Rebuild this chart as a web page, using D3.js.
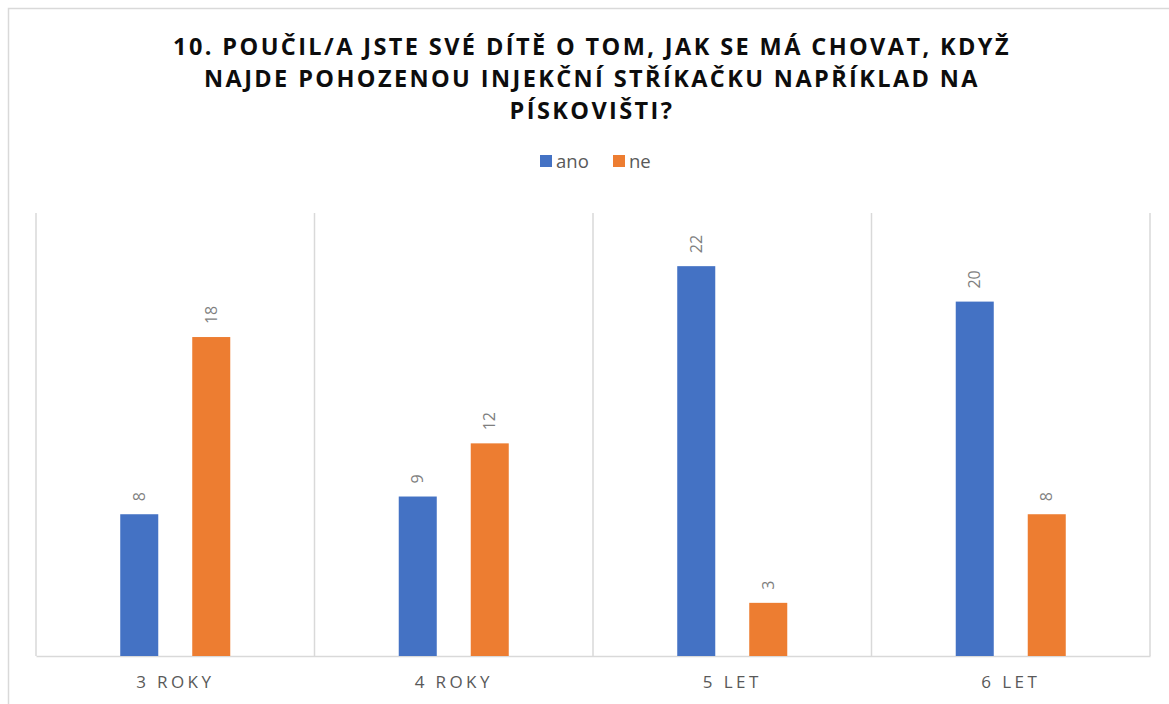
<!DOCTYPE html>
<html><head><meta charset="utf-8">
<script src="https://cdn.jsdelivr.net/npm/d3@7"></script>
<style>body{margin:0;background:#fff;} svg{display:block;}</style>
</head><body>
<svg id="c" width="1169" height="704"></svg>
<script>
const categories = ["3 ROKY", "4 ROKY", "5 LET", "6 LET"];
const seriesNames = ["ano", "ne"];
const anoValues = [8, 9, 22, 20];
const neValues = [18, 12, 3, 8];
const titleLines = ["10. POUČIL/A JSTE SVÉ DÍTĚ O TOM, JAK SE MÁ CHOVAT, KDYŽ", "NAJDE POHOZENOU INJEKČNÍ STŘÍKAČKU NAPŘÍKLAD NA", "PÍSKOVIŠTI?"];
const colors = ["#4472C4", "#ED7D31"];
const yMax = 25;

const svg = d3.select("#c");
const font = "'Open Sans', 'Liberation Sans', sans-serif";

// outer chart border
svg.append("rect").attr("x", 8.5).attr("y", 8.5).attr("width", 1180).attr("height", 720)
  .attr("fill", "#fff").attr("stroke", "#d9d9d9").attr("stroke-width", 1.5);

const L = 36, R = 1150, T = 213, B = 656;
const x0 = d3.scaleBand().domain(categories).range([L, R]).paddingInner(0).paddingOuter(0);
const x1 = d3.scaleBand().domain(seriesNames).range([0, x0.bandwidth()]).paddingInner(0.472).paddingOuter(1.17);
const y = d3.scaleLinear().domain([0, yMax]).range([B, T]);

// vertical gridlines
const gridX = categories.map(c => x0(c)).concat([R]);
svg.append("g").selectAll("line").data(gridX).join("line")
  .attr("x1", d => d).attr("x2", d => d).attr("y1", T).attr("y2", B)
  .attr("stroke", "#d9d9d9").attr("stroke-width", 1.5);

// bottom axis
const xAxis = svg.append("g").attr("transform", `translate(0,${B})`)
  .call(d3.axisBottom(x0).tickSize(0).tickPadding(20));
xAxis.select(".domain").attr("stroke", "#d9d9d9").attr("stroke-width", 1.5);
xAxis.selectAll("text").attr("font-family", font).attr("font-size", 17)
  .attr("fill", "#595959").attr("letter-spacing", "3.4px");

const data = categories.map((c, i) => ({c, vals: [anoValues[i], neValues[i]]}));
const groups = svg.append("g").selectAll("g").data(data).join("g")
  .attr("transform", d => `translate(${x0(d.c)},0)`);
groups.selectAll("rect").data(d => d.vals.map((v, j) => ({s: seriesNames[j], v, j}))).join("rect")
  .attr("x", d => x1(d.s)).attr("width", x1.bandwidth())
  .attr("y", d => y(d.v)).attr("height", d => B - y(d.v))
  .attr("fill", d => colors[d.j]);
groups.selectAll("text").data(d => d.vals.map((v, j) => ({s: seriesNames[j], v, j}))).join("text")
  .attr("transform", d => `translate(${x1(d.s) + x1.bandwidth() / 2},${y(d.v) - 13}) rotate(-90)`)
  .attr("dy", "0.35em").attr("text-anchor", "start")
  .attr("font-family", font).attr("font-size", 16).attr("fill", "#7f7f7f")
  .text(d => d.v);

// title
const title = svg.append("g");
const lineY = [55, 87, 119];
title.selectAll("text").data(titleLines).join("text")
  .attr("x", 592).attr("y", (d, i) => lineY[i])
  .attr("text-anchor", "middle").attr("font-family", font).attr("font-weight", "bold")
  .attr("font-size", 23.5).attr("fill", "#0d0d0d").attr("letter-spacing", "2.4px")
  .text(d => d);

// legend
const legend = svg.append("g");
const legX = [540, 613];
seriesNames.forEach((s, i) => {
  legend.append("rect").attr("x", legX[i]).attr("y", 155).attr("width", 12).attr("height", 12).attr("fill", colors[i]);
  legend.append("text").attr("x", legX[i] + 16).attr("y", 168).attr("font-family", font)
    .attr("font-size", 18.5).attr("fill", "#595959").text(s);
});
</script>
</body></html>
